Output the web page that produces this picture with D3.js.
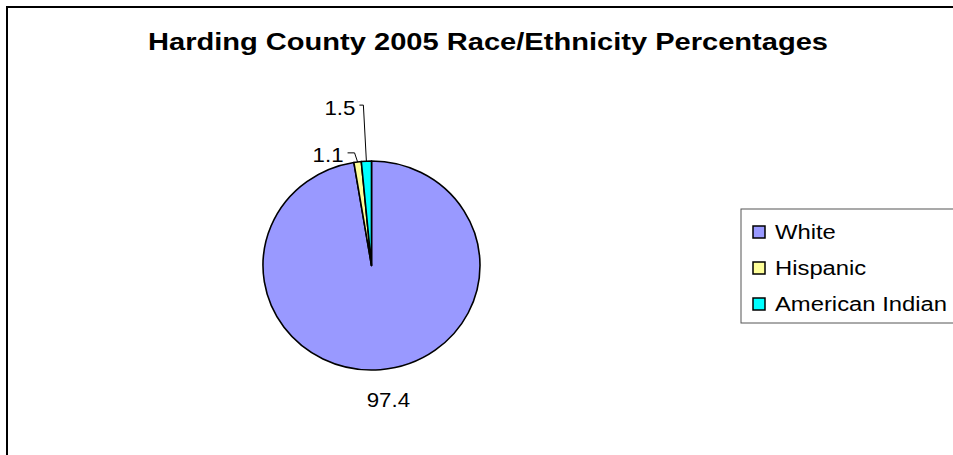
<!DOCTYPE html>
<html>
<head>
<meta charset="utf-8">
<script src="https://cdn.jsdelivr.net/npm/d3@7"></script>
<style>
  html, body { margin: 0; padding: 0; background: #fff; overflow: hidden; }
  svg { display: block; font-family: "Liberation Sans", Arial, sans-serif; }
</style>
</head>
<body>
<div id="chart"></div>
<script>
// ============================================================
// Harding County 2005 — Race/Ethnicity pie
// ============================================================

const categories = ['White', 'Hispanic', 'American Indian'];
const percentages = [97.4, 1.1, 1.5];
const sliceColors = ['#9999ff', '#ffff99', '#00ffff'];
const titleText = 'Harding County 2005 Race/Ethnicity Percentages';

const width = 953, height = 455;

const svg = d3.select('#chart')
    .append('svg')
    .attr('width', width)
    .attr('height', height);

// stretch text horizontally (the original rendering is wide)
function stretch(sel, k) {
    sel.each(function() {
        const w = this.getComputedTextLength();
        d3.select(this).attr('textLength', w * k).attr('lengthAdjust', 'spacingAndGlyphs');
    });
}

// Outer frame (runs off the right and bottom edge)
svg.append('rect')
    .attr('x', 7).attr('y', 7)
    .attr('width', 1000).attr('height', 500)
    .attr('fill', '#fff')
    .attr('stroke', '#000')
    .attr('stroke-width', 2);

// Title
svg.append('text')
    .attr('x', 148).attr('y', 50)
    .attr('font-size', '24px')
    .attr('font-weight', 'bold')
    .attr('textLength', 680)
    .attr('lengthAdjust', 'spacingAndGlyphs')
    .text(titleText);

// Pie
const cx = 371.5, cy = 265.5, rx = 108.5, ry = 104.5;
const data = categories.map((c, i) => ({ name: c, value: percentages[i], color: sliceColors[i] }));

const pie = d3.pie().value(d => d.value).sort(null);
const arcs = pie(data);
const arc = d3.arc().innerRadius(0).outerRadius(rx);

const pieG = svg.append('g')
    .attr('transform', `translate(${cx},${cy}) scale(1,${ry / rx})`);

pieG.selectAll('path')
    .data(arcs)
    .join('path')
    .attr('d', arc)
    .attr('fill', d => d.data.color)
    .attr('stroke', '#000')
    .attr('stroke-width', 1.6)
    .attr('stroke-linejoin', 'round');

// point on the (elliptical) rim at a given angle
function rim(a) {
    return [cx + rx * Math.sin(a), cy - ry * Math.cos(a)];
}

// label placement, relative to the slice's rim point
const labelLayout = [
    { dx: 8, dy: 37, anchor: 'middle', leader: false },
    { dx: -14, dy: 0, anchor: 'end', leader: true, elbowY: -9, tick: 7 },
    { dx: -11, dy: -46, anchor: 'end', leader: true, elbowY: -56, tick: 4 }
];

const labelG = svg.append('g');
arcs.forEach((d, i) => {
    const mid = (d.startAngle + d.endAngle) / 2;
    const [px, py] = rim(mid);
    const L = labelLayout[i];
    const tx = px + L.dx, ty = py + L.dy;
    if (L.leader) {
        const ex = tx + 4, ey = py + L.elbowY;
        labelG.append('path')
            .attr('d', `M${ex},${ey}H${ex + L.tick}L${px},${py}`)
            .attr('fill', 'none')
            .attr('stroke', '#000')
            .attr('stroke-width', 1);
    }
    labelG.append('text')
        .attr('x', tx).attr('y', ty)
        .attr('text-anchor', L.anchor)
        .attr('font-size', '21px')
        .text(d3.format('.1f')(d.data.value))
        .call(stretch, 1.06);
});

// Legend
const legend = svg.append('g').attr('transform', 'translate(741,209)');
legend.append('rect')
    .attr('width', 260).attr('height', 114)
    .attr('fill', '#fff')
    .attr('stroke', '#555')
    .attr('stroke-width', 1);

const item = legend.selectAll('g.item')
    .data(data)
    .join('g')
    .attr('class', 'item')
    .attr('transform', (d, i) => `translate(12,${23 + i * 36})`);

item.append('rect')
    .attr('x', 0).attr('y', -6)
    .attr('width', 12).attr('height', 12)
    .attr('fill', d => d.color)
    .attr('stroke', '#000')
    .attr('stroke-width', 1.5);

item.append('text')
    .attr('x', 22).attr('y', 7)
    .attr('font-size', '20px')
    .text(d => d.name)
    .call(stretch, 1.19);
</script>
</body>
</html>
